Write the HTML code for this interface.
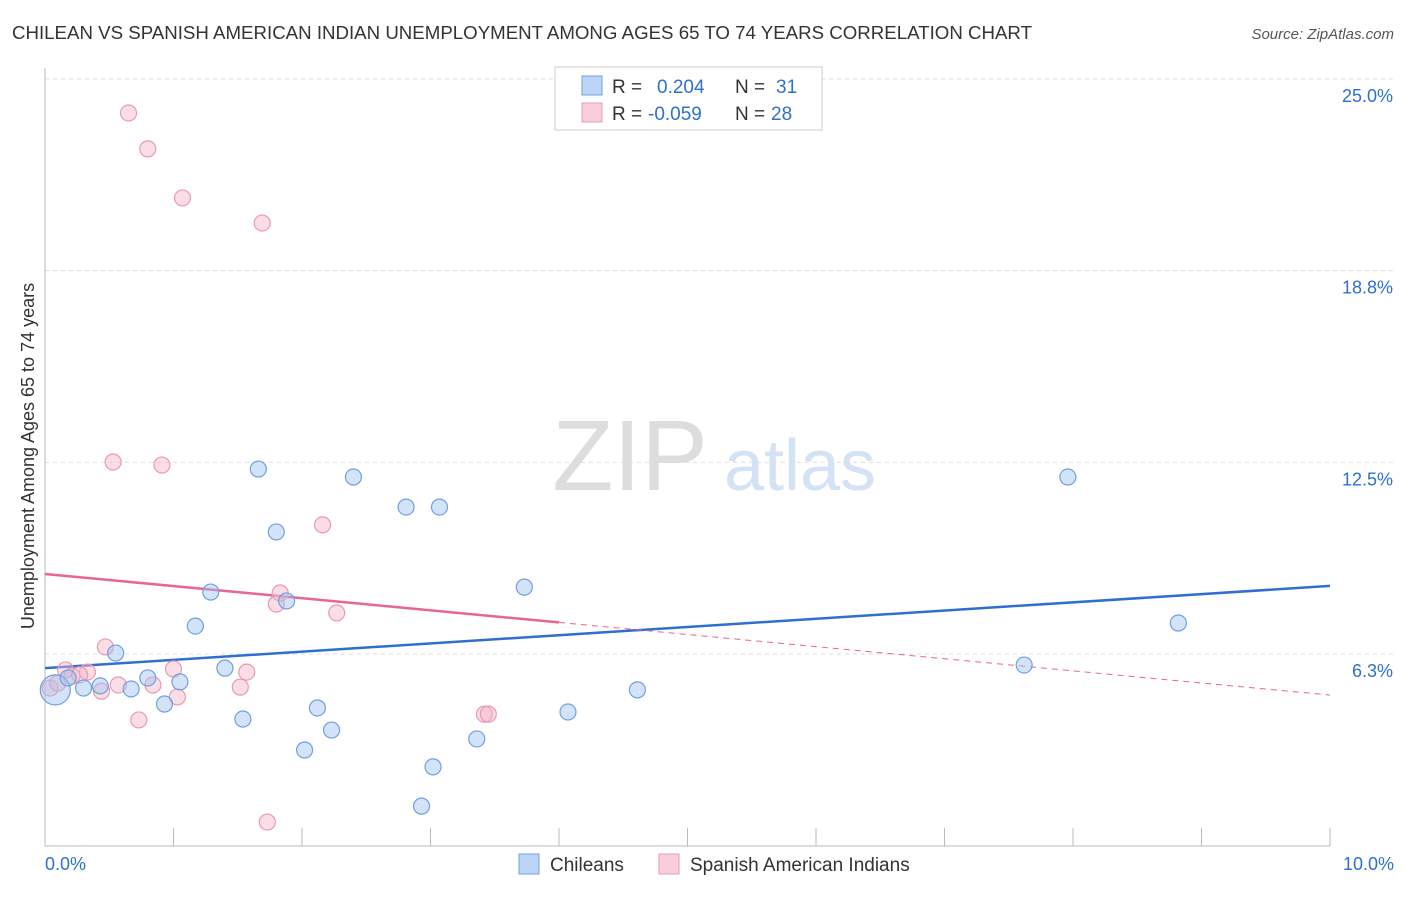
<!DOCTYPE html>
<html><head><meta charset="utf-8"><style>
body{margin:0;background:#fff;font-family:"Liberation Sans",sans-serif;}
svg text{font-family:"Liberation Sans",sans-serif;}
</style></head><body>
<svg id="chart" width="1406" height="892">
<text x="12" y="39" font-size="18" fill="#333" textLength="1020" lengthAdjust="spacingAndGlyphs">CHILEAN VS SPANISH AMERICAN INDIAN UNEMPLOYMENT AMONG AGES 65 TO 74 YEARS CORRELATION CHART</text>
<text x="1394" y="39" font-size="15" fill="#555" text-anchor="end" font-style="italic">Source: ZipAtlas.com</text>
<text x="630" y="490" font-size="100" fill="#ddd" text-anchor="middle" font-family="Liberation Serif,serif">ZIP</text>
<text x="800" y="490" font-size="72" fill="#d4e2f5" text-anchor="middle">atlas</text>
<g id="grid"></g><g id="axes"></g><g id="lines"></g><g id="pts"></g>
<text transform="translate(34,456) rotate(-90)" font-size="18" fill="#333" text-anchor="middle">Unemployment Among Ages 65 to 74 years</text>
<g>
<rect x="555" y="67" width="267" height="63" fill="#fff" stroke="#ccc"/>
<rect x="582" y="76" width="20" height="19" fill="#bcd4f5" stroke="#6fa0e0"/>
<rect x="582" y="103" width="20" height="19" fill="#f9cddb" stroke="#e89ab5"/>
<text x="612" y="93" font-size="19" fill="#333">R = </text><text x="657" y="93" font-size="19" fill="#2f6fd0">0.204</text>
<text x="735" y="93" font-size="19" fill="#333">N = </text><text x="776" y="93" font-size="19" fill="#2f6fd0">31</text>
<text x="612" y="120" font-size="19" fill="#333">R = </text><text x="648" y="120" font-size="19" fill="#2f6fd0">-0.059</text>
<text x="735" y="120" font-size="19" fill="#333">N = </text><text x="771" y="120" font-size="19" fill="#2f6fd0">28</text>
</g>
<g><rect x="519" y="854" width="20" height="20" fill="#bcd4f5" stroke="#6fa0e0"/><text x="550" y="871" font-size="19" fill="#333">Chileans</text></g>
<g><rect x="659" y="854" width="20" height="20" fill="#f9cddb" stroke="#e89ab5"/><text x="690" y="871" font-size="19" fill="#333">Spanish American Indians</text></g>
</svg>
<script>
const blueX=[0.08,0.18,0.30,0.43,0.55,0.67,0.80,0.93,1.05,1.17,1.29,1.40,1.54,1.66,1.80,1.88,2.02,2.12,2.23,2.40,2.81,2.93,3.02,3.07,3.36,3.73,4.07,4.61,7.62,7.96,8.82];
const blueY=[5.08,5.47,5.14,5.21,6.28,5.11,5.47,4.62,5.34,7.16,8.27,5.79,4.13,12.28,10.23,7.98,3.12,4.49,3.77,12.02,11.04,1.29,2.57,11.04,3.48,8.43,4.36,5.08,5.89,12.02,7.26];
const pinkX=[0.04,0.16,0.33,0.44,0.47,0.53,0.57,0.65,0.73,0.80,0.84,0.91,1.00,1.03,1.07,1.52,1.57,1.69,1.73,1.80,1.83,2.16,2.27,3.42,3.45,0.10,0.21,0.27];
const pinkY=[5.14,5.73,5.66,5.04,6.48,12.51,5.24,23.89,4.10,22.72,5.24,12.41,5.76,4.85,21.12,5.17,5.66,20.30,0.77,7.88,8.24,10.46,7.59,4.29,4.29,5.30,5.53,5.57];
const yTicks=[6.25,12.5,18.75,25];
const yTickLabels=["6.3%","12.5%","18.8%","25.0%"];
const blueTrend=[5.79,8.47];
const pinkTrend=[8.86,4.91];
const NS="http://www.w3.org/2000/svg";
const xs=v=>45+v*128.5, ys=v=>654-(v-6.25)*30.67;
function mk(p,t,a){const e=document.createElementNS(NS,t);for(const k in a)e.setAttribute(k,a[k]);document.getElementById(p).appendChild(e);return e;}
yTicks.forEach((v,i)=>{
 const l=mk('grid','line',{x1:45,x2:1394,y1:ys(v),y2:ys(v),stroke:'#ddd','stroke-dasharray':'4,4'});
 
 
 const t=mk('grid','text',{x:1393,y:ys(v)+23,'font-size':18,fill:'#2f6fd0','text-anchor':'end'});
 t.textContent=yTickLabels[i];
 
 
});
mk('axes','line',{x1:45,x2:45,y1:68,y2:846,stroke:'#bbb'});
mk('axes','line',{x1:45,x2:1330,y1:846,y2:846,stroke:'#bbb'});
for(let i=1;i<=10;i++){const l=mk('axes','line',{x1:xs(i),x2:xs(i),y1:828,y2:846,stroke:'#bbb'});}
let t0=mk('axes','text',{x:45,y:870,'font-size':18,fill:'#2f6fd0'});t0.textContent='0.0%';


let t1=mk('axes','text',{x:1394,y:870,'font-size':18,fill:'#2f6fd0','text-anchor':'end'});t1.textContent='10.0%';


const bl=mk('lines','line',{x1:xs(0),y1:ys(blueTrend[0]),x2:xs(10),y2:ys(blueTrend[1]),stroke:'#2f6fd0','stroke-width':2.5});


const pm=v=>pinkTrend[0]+(pinkTrend[1]-pinkTrend[0])*v/10;
const p1=mk('lines','line',{x1:xs(0),y1:ys(pm(0)),x2:xs(4),y2:ys(pm(4)),stroke:'#e8668f','stroke-width':2.5});


const p2=mk('lines','line',{x1:xs(4),y1:ys(pm(4)),x2:xs(10),y2:ys(pm(10)),stroke:'#e8668f','stroke-width':1,'stroke-dasharray':'6,5'});


pinkX.forEach((x,i)=>{const c=mk('pts','circle',{cx:xs(x),cy:ys(pinkY[i]),r:8,fill:'rgba(245,180,200,0.45)',stroke:'#e89ab5','stroke-width':1.2});

});
blueX.forEach((x,i)=>{const c=mk('pts','circle',{cx:xs(x),cy:ys(blueY[i]),r:i===0?15:8,fill:'rgba(160,196,240,0.45)',stroke:'#6fa0e0','stroke-width':1.2});

});
</script>
</body></html>
